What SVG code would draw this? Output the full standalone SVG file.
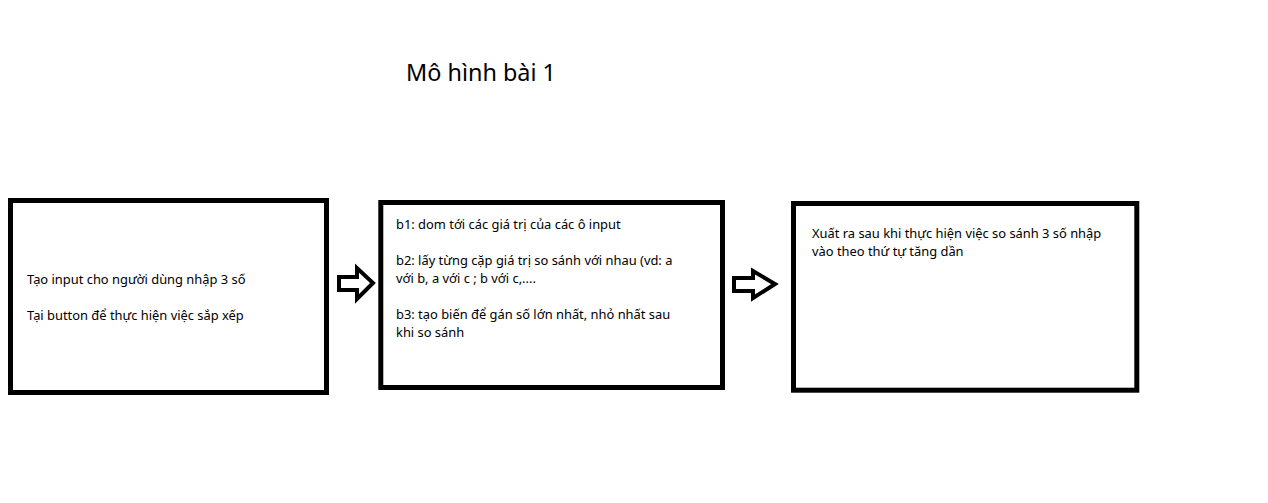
<svg xmlns="http://www.w3.org/2000/svg" width="1268" height="503" viewBox="0 0 1268 503">
<style>
.box{fill:#fff;stroke:#000;stroke-width:5}
.arr{fill:#fff;stroke:#000;stroke-width:4;stroke-linejoin:miter}
.t{font-family:"Noto Sans","Open Sans",sans-serif;font-size:12.9px;fill:#000}
.title{font-family:"Noto Sans","Open Sans",sans-serif;font-size:23.4px;fill:#000}
</style>
<rect width="1268" height="503" fill="#fff"/>
<text class="title" x="406" y="81">Mô hình bài 1</text>
<g id="node1">
<rect class="box" x="10.5" y="200.5" width="316" height="192"/>
<text class="t" x="27" y="284">Tạo input cho người dùng nhập 3 số</text>
<text class="t" x="27" y="320">Tại button để thực hiện việc sắp xếp</text>
</g>
<g id="node2">
<rect class="box" x="380.8" y="202.5" width="341.7" height="185"/>
<text class="t" x="396" y="229">b1: dom tới các giá trị của các ô input</text>
<text class="t" x="396" y="265">b2: lấy từng cặp giá trị so sánh với nhau (vd: a</text>
<text class="t" x="396" y="283">với b, a với c ; b với c,....</text>
<text class="t" x="396" y="319">b3: tạo biến để gán số lớn nhất, nhỏ nhất sau</text>
<text class="t" x="396" y="337">khi so sánh</text>
</g>
<g id="node3">
<rect class="box" x="793.5" y="203.5" width="343.3" height="186.7"/>
<text class="t" x="812" y="238">Xuất ra sau khi thực hiện việc so sánh 3 số nhập</text>
<text class="t" x="812" y="256">vào theo thứ tự tăng dần</text>
</g>
<g id="connectors">
<polygon class="arr" points="339,277 357,277 357,268 373,283 357,299 357,290 339,290"/>
<polygon class="arr" points="734,278 753,278 753,271 775,284 753,298 753,291 734,291"/>
</g>
</svg>
